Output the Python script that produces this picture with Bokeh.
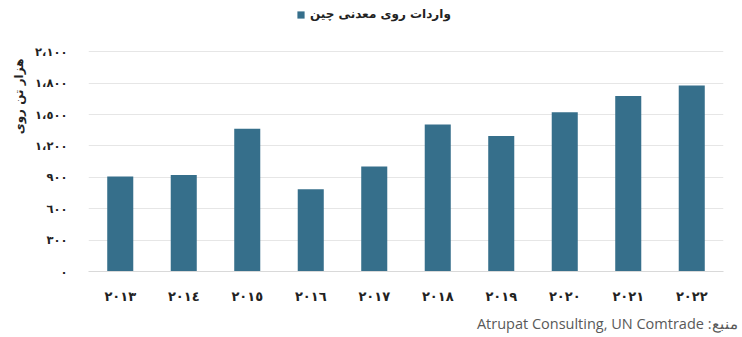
from bokeh.plotting import figure
from bokeh.models import ColumnDataSource, FixedTicker, Title, Legend, LegendItem
from bokeh.embed import file_html
from bokeh.resources import INLINE

years = ["٢٠١٣", "٢٠١٤", "٢٠١٥", "٢٠١٦", "٢٠١٧", "٢٠١٨", "٢٠١٩", "٢٠٢٠", "٢٠٢١", "٢٠٢٢"]
imports = [909, 922, 1364, 786, 1004, 1405, 1294, 1522, 1677, 1778]
y_ticks = [0, 300, 600, 900, 1200, 1500, 1800, 2100]
series_name = "واردات روی معدنی چین"
y_title = "هزار تن روی"
source_note = "\u202bمنبع: Atrupat Consulting, UN Comtrade\u202c"

AR = str.maketrans("0123456789", "٠١٢٣٤٥٦٧٨٩")
def ar_num(v):
    s = f"{v:,}".replace(",", "،")
    return s.translate(AR)

FONT = "DejaVu Sans"
BAR = "#366f8b"

src = ColumnDataSource(dict(year=years, value=imports))

# frame reaches the top of the canvas so the legend (drawn inside it) is not clipped
p = figure(width=742, height=337, x_range=years, y_range=(0, 2590),
           output_backend="svg", toolbar_location=None,
           min_border_left=88, min_border_right=19, min_border_top=0, min_border_bottom=64)
p.outline_line_color = None
p.background_fill_color = "white"
p.border_fill_color = "white"
p.x_range.range_padding = 0

r = p.vbar(x="year", top="value", width=0.41, source=src, fill_color=BAR, line_color=None)

p.yaxis.ticker = FixedTicker(ticks=y_ticks)
p.yaxis.major_label_overrides = {t: ar_num(t) for t in y_ticks}
p.yaxis.axis_line_color = None
p.yaxis.major_tick_line_color = None
p.yaxis.minor_tick_line_color = None
p.yaxis.major_label_standoff = 15
p.yaxis.major_label_text_font = FONT
p.yaxis.major_label_text_font_style = "bold"
p.yaxis.major_label_text_font_size = "11.5px"
p.yaxis.major_label_text_color = "#222222"

p.xaxis.axis_line_color = "#d9d9d9"
p.xaxis.major_tick_line_color = None
p.xaxis.minor_tick_line_color = None
p.xaxis.major_label_standoff = 11
p.xaxis.major_label_text_font = FONT
p.xaxis.major_label_text_font_style = "bold"
p.xaxis.major_label_text_font_size = "13px"
p.xaxis.major_label_text_color = "#222222"

p.xgrid.grid_line_color = None
p.ygrid.grid_line_color = "#e6e6e6"
p.ygrid.grid_line_width = 1

legend = Legend(items=[LegendItem(label=series_name, renderers=[r])],
                orientation="horizontal", location=(208, 250),
                label_text_font=FONT, label_text_font_style="bold",
                label_text_font_size="12px", label_text_color="#222222",
                glyph_width=9, glyph_height=9, label_standoff=5,
                padding=0, margin=0, border_line_color=None,
                background_fill_alpha=0)
p.add_layout(legend, "center")

p.add_layout(Title(text=y_title, align="right", offset=58, standoff=14, text_font=FONT,
                   text_font_style="bold", text_font_size="12px",
                   text_color="#222222"), "left")

p.add_layout(Title(text=source_note, align="right", offset=-14, text_font="Open Sans",
                   text_font_style="normal", text_font_size="14.5px",
                   text_color="#595959"), "below")

open("out.html", "w").write(file_html(p, INLINE))
